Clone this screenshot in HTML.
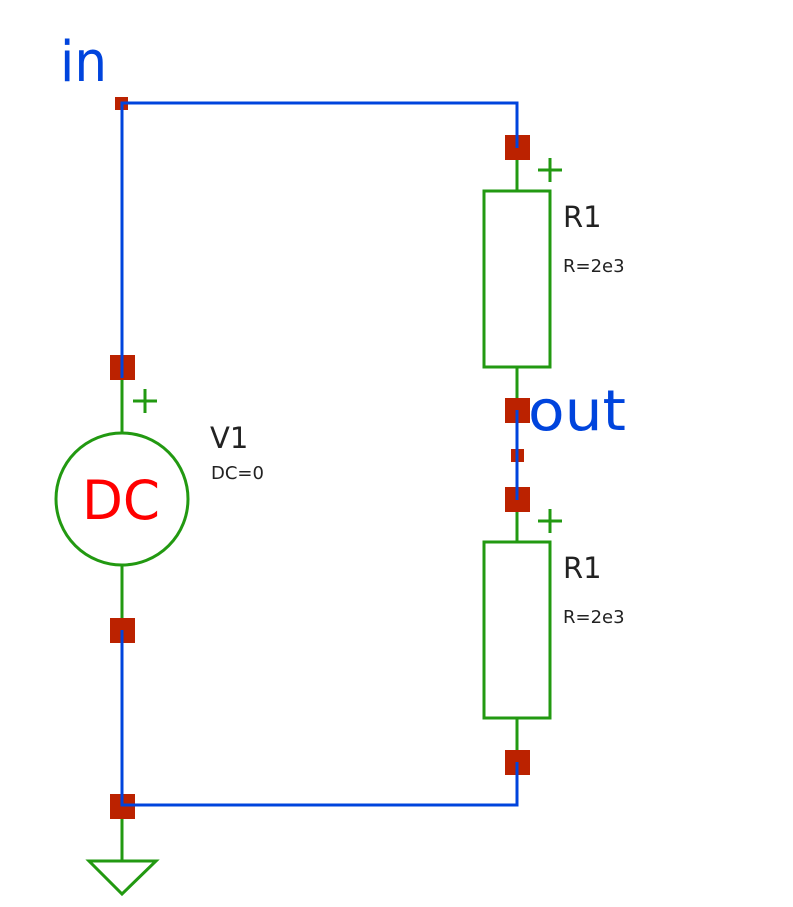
<!DOCTYPE html>
<html><head><meta charset="utf-8"><style>html,body{margin:0;padding:0;background:#fff}svg{display:block}</style></head>
<body>
<svg width="793" height="907" viewBox="0 0 793 907" xmlns="http://www.w3.org/2000/svg" font-family="'DejaVu Sans','Liberation Sans',sans-serif">
<g stroke="#229911" stroke-width="3" fill="none">
<line x1="122" y1="378" x2="122" y2="433"/>
<circle cx="122" cy="499" r="66"/>
<line x1="122" y1="565" x2="122" y2="630"/>
<line x1="122" y1="805" x2="122" y2="861"/>
<polygon points="89,861 156,861 122,894"/>
<line x1="517" y1="160" x2="517" y2="191"/>
<rect x="484" y="191" width="66" height="176"/>
<line x1="517" y1="367" x2="517" y2="410"/>
<line x1="517" y1="499" x2="517" y2="542"/>
<rect x="484" y="542" width="66" height="176"/>
<line x1="517" y1="718" x2="517" y2="762"/>
<line x1="133" y1="401" x2="157" y2="401"/><line x1="145" y1="389" x2="145" y2="413"/>
<line x1="538" y1="170" x2="562" y2="170"/><line x1="550" y1="158" x2="550" y2="182"/>
<line x1="538" y1="521" x2="562" y2="521"/><line x1="550" y1="509" x2="550" y2="533"/>
</g>
<g fill="#bb2200">
<rect x="115" y="97" width="13" height="13"/>
<rect x="110" y="355" width="25" height="25"/>
<rect x="110" y="618" width="25" height="25"/>
<rect x="110" y="794" width="25" height="25"/>
<rect x="505" y="135" width="25" height="25"/>
<rect x="505" y="398" width="25" height="25"/>
<rect x="511" y="449" width="13" height="13"/>
<rect x="505" y="487" width="25" height="25"/>
<rect x="505" y="750" width="25" height="25"/>
</g>
<g stroke="#0044dd" stroke-width="3" fill="none">
<polyline points="122,378 122,103 517,103 517,148"/>
<polyline points="122,630 122,805 517,805 517,762"/>
<line x1="517" y1="410" x2="517" y2="500"/>
</g>
<text x="60" y="81" font-size="56" fill="#0044dd" textLength="47" lengthAdjust="spacingAndGlyphs">in</text>
<text x="528" y="430" font-size="56" fill="#0044dd" textLength="98" lengthAdjust="spacingAndGlyphs">out</text>
<text x="82" y="519" font-size="54" fill="#ff0000" textLength="78" lengthAdjust="spacingAndGlyphs">DC</text>
<g fill="#222">
<text x="210" y="448" font-size="29">V1</text>
<text x="211" y="479" font-size="18">DC=0</text>
<text x="563" y="227" font-size="29">R1</text>
<text x="563" y="272" font-size="18">R=2e3</text>
<text x="563" y="578" font-size="29">R1</text>
<text x="563" y="623" font-size="18">R=2e3</text>
</g>
</svg>
</body></html>
